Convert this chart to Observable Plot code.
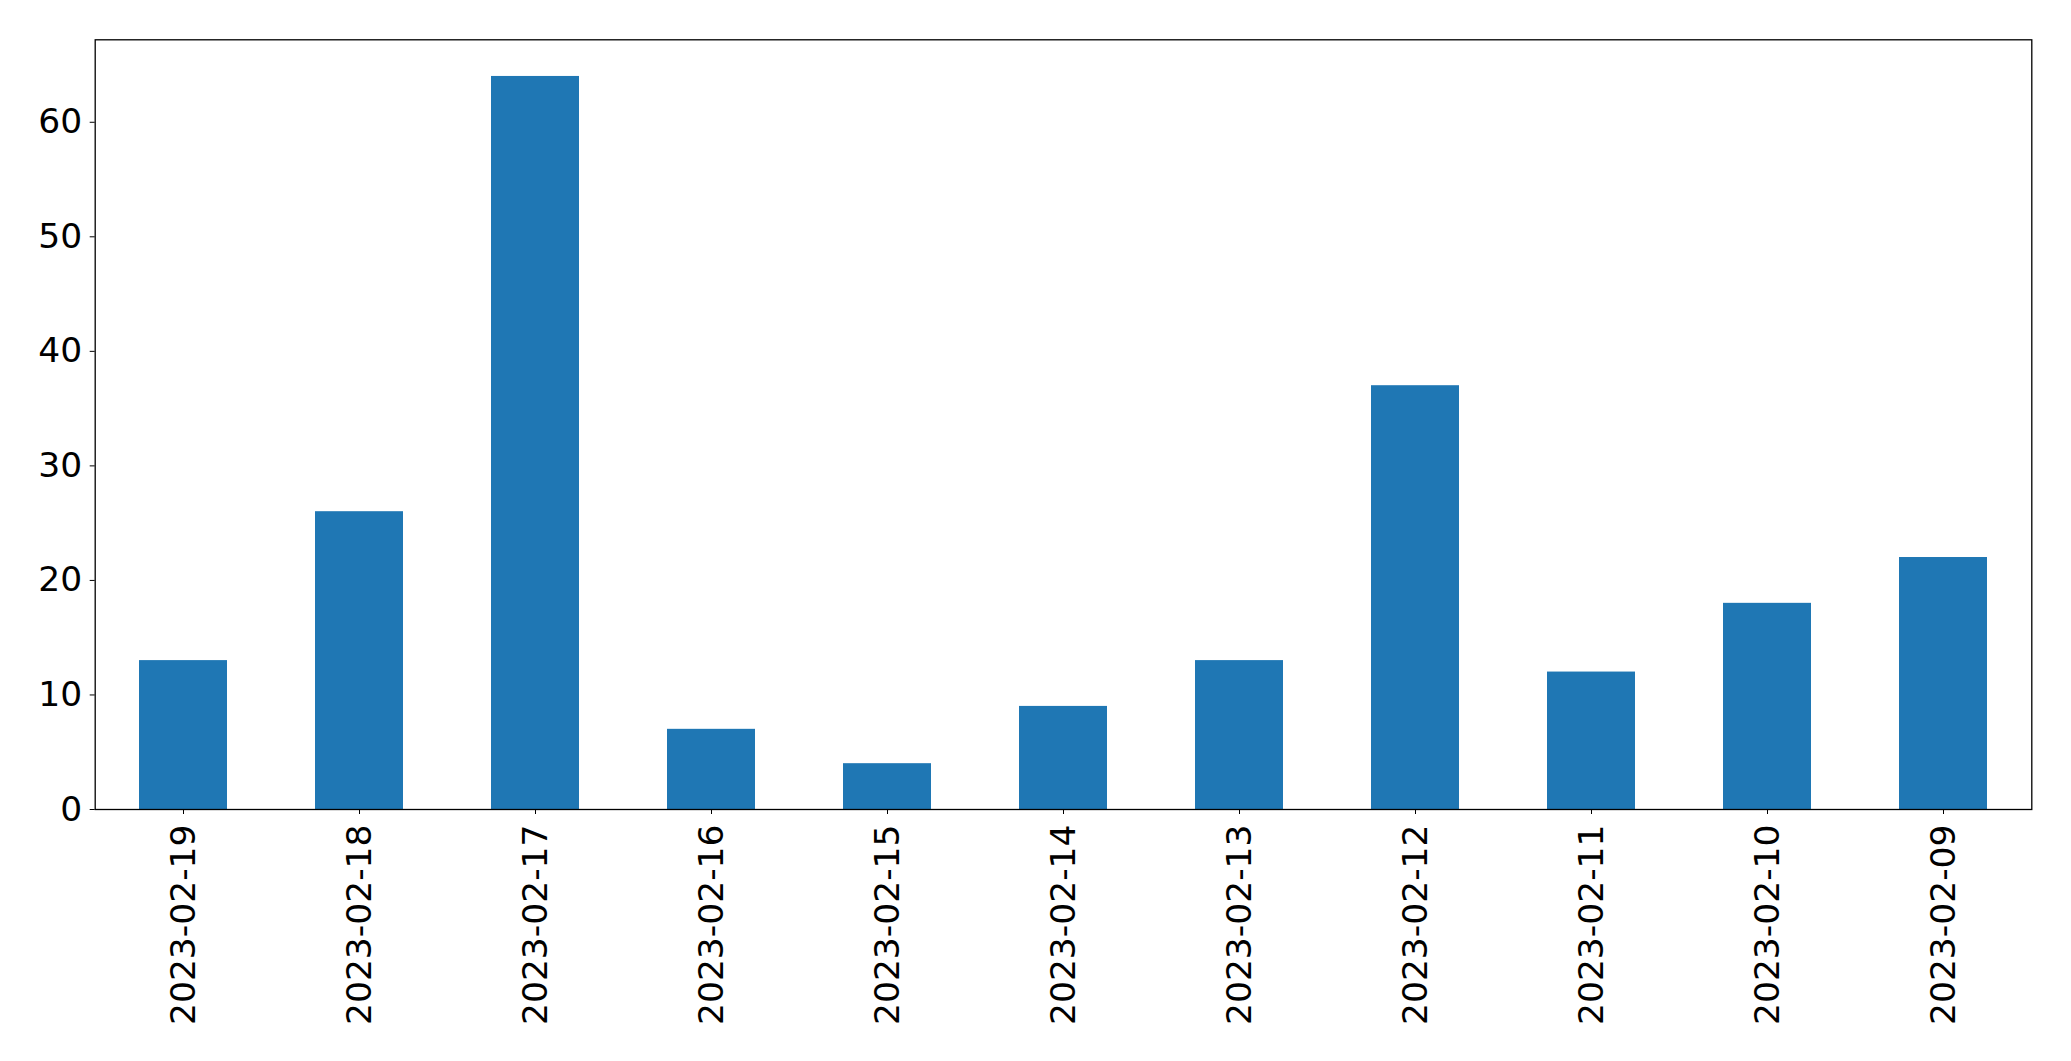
<!DOCTYPE html>
<html>
<head>
<meta charset="utf-8">
<script src="https://cdn.jsdelivr.net/npm/d3@7"></script>
<script src="https://cdn.jsdelivr.net/npm/@observablehq/plot@0.6"></script>
<style>
  html, body { margin: 0; padding: 0; background: #fff; }
  #chart svg { display: block; }
</style>
</head>
<body>
<div id="chart"></div>
<script>
const dates = ["2023-02-19","2023-02-18","2023-02-17","2023-02-16","2023-02-15","2023-02-14","2023-02-13","2023-02-12","2023-02-11","2023-02-10","2023-02-09"];
const counts = [13, 26, 64, 7, 4, 9, 13, 37, 12, 18, 22];
const yTicks = [0, 10, 20, 30, 40, 50, 60];

const data = dates.map((d, i) => ({date: d, count: counts[i]}));

const chart = Plot.plot({
  width: 2071,
  height: 1061,
  marginLeft: 94.7,
  marginRight: 39.7,
  marginTop: 39.3,
  marginBottom: 252,
  style: {fontFamily: "DejaVu Sans", fontSize: "34.5px", color: "black", background: "white"},
  x: {domain: dates, paddingInner: 0.5, paddingOuter: 0.25, label: null},
  y: {domain: [0, 67.2], label: null},
  marks: [
    Plot.barY(data, {x: "date", y: "count", fill: "#1f77b4"}),
    Plot.frame({stroke: "black", strokeWidth: 1.3}),
    Plot.axisX({tickRotate: -90, tickSize: 5, tickPadding: 10, label: null, fontSize: 34.5, stroke: "black"}),
    Plot.axisY({ticks: yTicks, tickSize: 5, tickPadding: 8, label: null, fontSize: 34.5, stroke: "black"})
  ]
});
document.getElementById("chart").appendChild(chart);
</script>
</body>
</html>
